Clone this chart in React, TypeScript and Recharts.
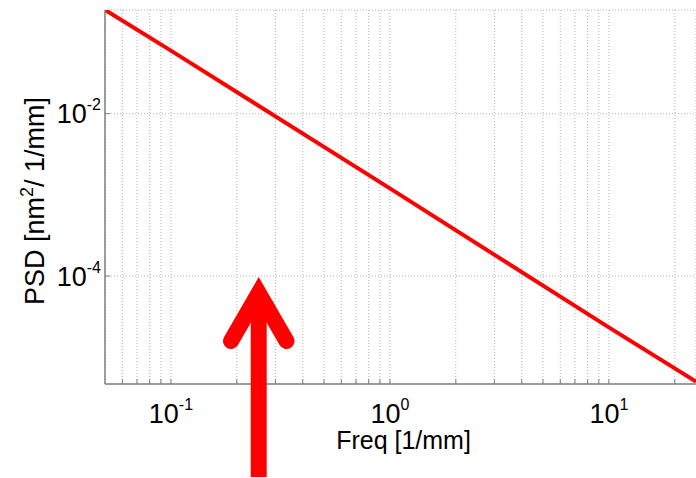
import React from 'react';
import { LineChart, Line, XAxis, YAxis, CartesianGrid } from 'recharts';

// Data (log-log spectrum)
const freq = [0.05, 0.1, 1, 10, 25];
const psd = [0.19, 0.0597, 0.0012, 0.0000233, 0.000005];

const xMajorTicks = [0.1, 1, 10];
const xMajorLabels = ['-1', '0', '1'];
const xMinorTicks = [0.06, 0.07, 0.08, 0.09, 0.2, 0.3, 0.4, 0.5, 0.6, 0.7, 0.8, 0.9, 2, 3, 4, 5, 6, 7, 8, 9, 20];
const yMajorTicks = [0.0001, 0.01];
const yMajorLabels = ['-4', '-2'];

const xDomain = [0.05, 25];
const yDomain = [0.00000468, 0.1892];

const data = freq.map((f, i) => ({ f, p: psd[i] }));
const allXTicks = [...xMinorTicks, ...xMajorTicks].sort((a, b) => a - b);

const FONT = '"Liberation Sans", Arial, Helvetica, sans-serif';
const AXIS = '#7f7f7f';

const majorIndex = (v: number, arr: number[]) => arr.findIndex((t) => Math.abs(t - v) / t < 1e-6);

const BottomTick = (props: any) => {
  const { x, y, payload } = props;
  const idx = majorIndex(payload.value, xMajorTicks);
  return (
    <g>
      <line x1={x} x2={x} y1={y} y2={y - 5} stroke={AXIS} strokeWidth={1} />
      {idx >= 0 && (
        <text x={x} y={y + 38.5} textAnchor="middle" fontFamily={FONT} fill="#000" fontSize={27}>
          <tspan>10</tspan>
          <tspan fontSize={16} dy={-13}>{xMajorLabels[idx]}</tspan>
        </text>
      )}
    </g>
  );
};

const TopTick = (props: any) => {
  const { x, y } = props;
  return <line x1={x} x2={x} y1={y} y2={y + 5} stroke={AXIS} strokeWidth={1} />;
};

const LeftTick = (props: any) => {
  const { x, y, payload } = props;
  const idx = majorIndex(payload.value, yMajorTicks);
  return (
    <g>
      <line x1={x} x2={x + 5} y1={y} y2={y} stroke={AXIS} strokeWidth={1} />
      {idx >= 0 && (
        <text x={x - 4} y={y + 9.5} textAnchor="end" fontFamily={FONT} fill="#000" fontSize={27}>
          <tspan>10</tspan>
          <tspan fontSize={16} dy={-13}>{yMajorLabels[idx]}</tspan>
        </text>
      )}
    </g>
  );
};

const XLabel = (props: any) => {
  const vb = props.viewBox || {};
  const cx = vb.x + vb.width / 2;
  return (
    <text
      x={cx + 3}
      y={449}
      textAnchor="middle"
      fontFamily={FONT}
      fontSize={25}
      fill="#000"
    >
      Freq [1/mm]
    </text>
  );
};

const YLabel = () => {
  return (
    <text
      transform="translate(44, 201) rotate(-90)"
      textAnchor="middle"
      fontFamily={FONT}
      fontSize={27}
      fill="#000"
    >
      <tspan>PSD [nm</tspan>
      <tspan fontSize={18} dy={-11}>2</tspan>
      <tspan dy={11}>/ 1/mm]</tspan>
    </text>
  );
};

export default function App() {
  return (
    <div style={{ position: 'absolute', left: 0, top: 0, width: 696, height: 478, background: '#fff' }}>
      <LineChart
        width={696}
        height={478}
        data={data}
        margin={{ top: 10, right: 0, left: 0, bottom: 0 }}
        style={{ fontFamily: FONT }}
      >
        <CartesianGrid stroke="#b4b4b4" strokeDasharray="1 2" strokeWidth={1} />
        <XAxis
          dataKey="f"
          type="number"
          scale="log"
          domain={xDomain}
          allowDataOverflow
          ticks={allXTicks}
          interval={0}
          height={94}
          tickSize={0}
          tickMargin={0}
          tick={<BottomTick />}
          axisLine={{ stroke: AXIS, strokeWidth: 1.5 }}
          tickLine={false}
          label={<XLabel />}
        />
        <XAxis
          xAxisId="top"
          orientation="top"
          dataKey="f"
          type="number"
          scale="log"
          domain={xDomain}
          allowDataOverflow
          ticks={allXTicks}
          interval={0}
          height={0}
          tickSize={0}
          tickMargin={0}
          tick={<TopTick />}
          axisLine={{ stroke: AXIS, strokeWidth: 1.5 }}
          tickLine={false}
        />
        <YAxis
          type="number"
          scale="log"
          domain={yDomain}
          allowDataOverflow
          ticks={yMajorTicks}
          interval={0}
          width={105}
          tickSize={0}
          tickMargin={0}
          tick={<LeftTick />}
          axisLine={{ stroke: AXIS, strokeWidth: 1.5 }}
          tickLine={false}
          label={<YLabel />}
        />
        <Line
          dataKey="p"
          stroke="#ff0000"
          strokeWidth={4}
          dot={false}
          type="linear"
          isAnimationActive={false}
        />
      </LineChart>
      <svg
        width={696}
        height={478}
        style={{ position: 'absolute', left: 0, top: 0, pointerEvents: 'none' }}
      >
        <rect x={250.7} y={300} width={16} height={177} fill="#ff0000" />
        <polyline
          points="231,341 258.7,293 286.5,341"
          fill="none"
          stroke="#ff0000"
          strokeWidth={16}
          strokeLinecap="round"
          strokeLinejoin="miter"
        />
      </svg>
    </div>
  );
}
